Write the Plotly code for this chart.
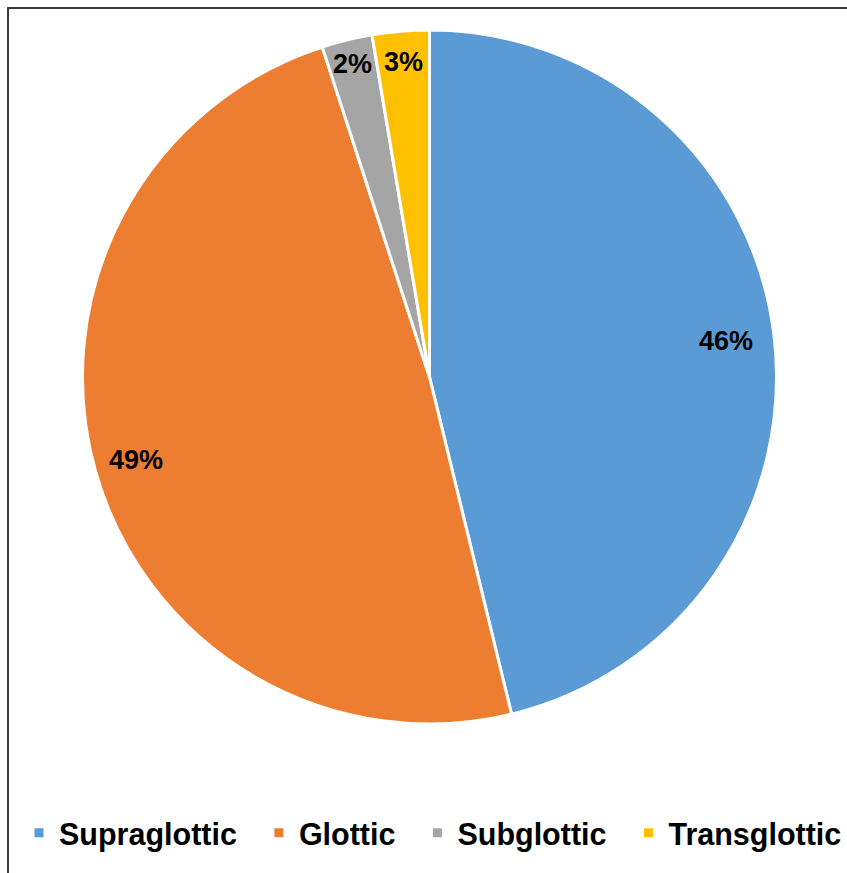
import math
import plotly.graph_objects as go

# Tumour sub-site distribution (percent of cases)
categories = ["Supraglottic", "Glottic", "Subglottic", "Transglottic"]
shares = [46.2, 48.8, 2.35, 2.65]
colors = ["#5B9BD5", "#ED7D31", "#A5A5A5", "#FFC000"]

W, H = 847, 873
# pie geometry in pixels (origin top-left)
CX, CY, R = 429.5, 377.0, 347.0
# radial position of each percentage label, as a fraction of the radius
label_radius = [0.86, 0.88, 0.93, 0.91]

FONT = "Liberation Sans, Arial, sans-serif"
PAD = "\u00a0\u00a0"  # extra spacing between legend entries

fig = go.Figure(
    go.Pie(
        labels=[c + (PAD if i < len(categories) - 1 else "") for i, c in enumerate(categories)],
        values=shares,
        sort=False,
        direction="clockwise",
        rotation=0,
        marker=dict(colors=colors, line=dict(color="white", width=3)),
        textinfo="none",
        domain=dict(
            x=[(CX - R) / W, (CX + R) / W],
            y=[1 - (CY + R) / H, 1 - (CY - R) / H],
        ),
        customdata=categories,
        hovertemplate="%{customdata}: %{percent:.0%}<extra></extra>",
    )
)

# percentage labels placed along each slice's mid-angle
total = sum(shares)
annotations = []
start = 0.0
for v, rf in zip(shares, label_radius):
    sweep = v / total * 360.0
    mid = math.radians(start + sweep / 2)
    start += sweep
    px = CX + rf * R * math.sin(mid)
    py = CY - rf * R * math.cos(mid)
    annotations.append(
        dict(
            x=px / W, y=1 - py / H, xref="paper", yref="paper",
            text=f"{round(v / total * 100)}%", showarrow=False,
            font=dict(family=FONT, size=27, color="black", weight="bold"),
            xanchor="center", yanchor="middle",
        )
    )

fig.update_layout(
    width=W,
    height=H,
    margin=dict(l=0, r=0, t=0, b=0),
    paper_bgcolor="white",
    plot_bgcolor="white",
    showlegend=True,
    legend=dict(
        orientation="h",
        x=435 / W, xanchor="center",
        y=40 / H, yanchor="middle",
        bgcolor="rgba(0,0,0,0)",
        font=dict(family=FONT, size=30.5, color="black", weight="bold"),
        itemclick=False, itemdoubleclick=False,
    ),
    annotations=annotations,
    shapes=[
        dict(
            type="rect", xref="paper", yref="paper",
            x0=8 / W, x1=1.02, y0=-0.02, y1=1 - 8 / H,
            line=dict(color="#3a3a3a", width=2),
            fillcolor="rgba(0,0,0,0)", layer="below",
        )
    ],
)

fig.write_html("out.html")
